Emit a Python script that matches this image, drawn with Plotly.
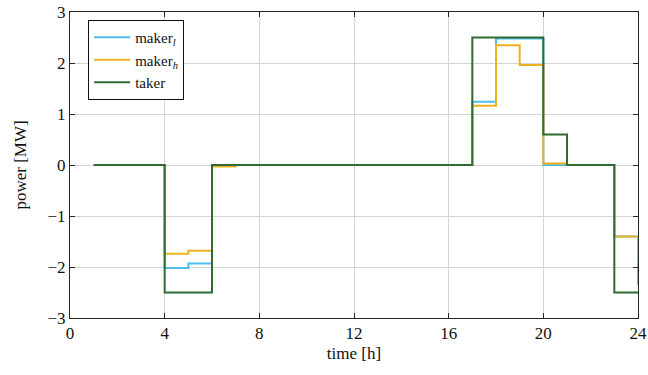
import plotly.graph_objects as go

hours = list(range(1, 25))
maker_l = [0, 0, 0, -2.02, -1.93, 0, 0, 0, 0, 0, 0, 0, 0, 0, 0, 0,
           1.24, 2.48, 2.48, 0.0, 0, 0, -1.4, -2.35]
maker_h = [0, 0, 0, -1.74, -1.68, -0.03, 0, 0, 0, 0, 0, 0, 0, 0, 0, 0,
           1.16, 2.35, 1.96, 0.03, 0, 0, -1.4, -1.9]
taker = [0, 0, 0, -2.5, -2.5, 0, 0, 0, 0, 0, 0, 0, 0, 0, 0, 0,
         2.5, 2.5, 2.5, 0.6, 0, 0, -2.5, -2.5]

x_ticks = [0, 4, 8, 12, 16, 20, 24]
y_ticks = [-3, -2, -1, 0, 1, 2, 3]

font_family = "Liberation Serif, DejaVu Serif, serif"

fig = go.Figure()
fig.add_trace(go.Scatter(x=hours, y=maker_l, mode="lines", line_shape="hv",
                         line=dict(color="#4DBEEE", width=2),
                         name="maker<sub><i>l</i></sub>"))
fig.add_trace(go.Scatter(x=hours, y=maker_h, mode="lines", line_shape="hv",
                         line=dict(color="#EDB120", width=2),
                         name="maker<sub><i>h</i></sub>"))
fig.add_trace(go.Scatter(x=hours, y=taker, mode="lines", line_shape="hv",
                         line=dict(color="#2F6B32", width=2),
                         name="taker"))

axis_common = dict(
    showline=True, mirror="ticks", linecolor="#262626", linewidth=1,
    ticks="inside", ticklen=5, tickcolor="#262626",
    showgrid=True, gridcolor="#d4d4d4", gridwidth=1,
    zeroline=False, automargin=False,
    tickfont=dict(family=font_family, size=17, color="#111"),
)

fig.update_layout(
    width=648, height=375,
    margin=dict(l=70, r=10, t=12, b=57),
    paper_bgcolor="white", plot_bgcolor="white",
    font=dict(family=font_family, size=17, color="#111"),
    showlegend=True,
    legend=dict(x=0.032, y=0.974, xanchor="left", yanchor="top",
                bgcolor="white", bordercolor="#111", borderwidth=1,
                font=dict(family=font_family, size=15),
                tracegroupgap=0, itemwidth=36),
    xaxis=dict(range=[0, 24], tickvals=x_ticks,
               title=dict(text="time [h]", standoff=4,
                          font=dict(family=font_family, size=17)),
               **axis_common),
    yaxis=dict(range=[-3, 3], tickvals=y_ticks,
               title=dict(text="power [MW]", standoff=16,
                          font=dict(family=font_family, size=17)),
               **axis_common),
)

fig.write_html("out.html", config={"displayModeBar": False},
               post_script="document.body.style.margin='0';document.body.style.padding='0';")
